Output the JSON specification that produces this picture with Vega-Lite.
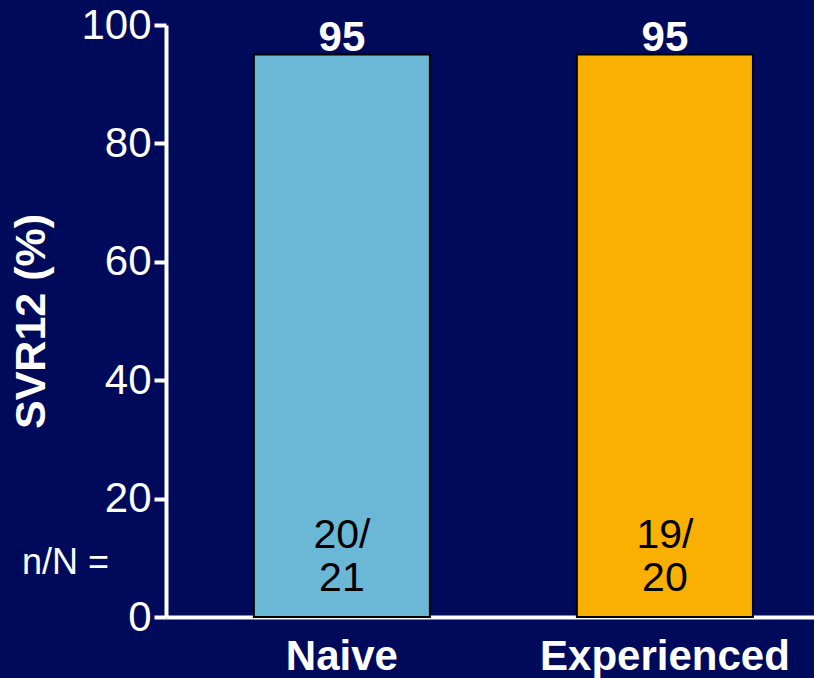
{
  "$schema": "https://vega.github.io/schema/vega-lite/v6.json",
  "width": 648,
  "height": 592,
  "autosize": {"type": "none"},
  "padding": {"left": 166, "top": 25, "right": 0, "bottom": 61},
  "background": "#000A5A",
  "config": {
    "view": {"stroke": null},
    "font": "Liberation Sans"
  },
  "data": {
    "values": [
      {"group": "Naive", "svr": 95, "n": 20, "N": 21},
      {"group": "Experienced", "svr": 95, "n": 19, "N": 20}
    ]
  },
  "transform": [
    {"calculate": "[datum.n + '/', '' + datum.N]", "as": "ratio"}
  ],
  "encoding": {
    "x": {
      "field": "group",
      "type": "nominal",
      "sort": ["Naive", "Experienced"],
      "scale": {"paddingInner": 0.455, "paddingOuter": 0.2305, "align": 0.59},
      "axis": {
        "title": null,
        "domainColor": "white",
        "domainWidth": 4,
        "ticks": false,
        "labelAngle": 0,
        "labelLimit": 0,
        "labelColor": "white",
        "labelFontSize": 42,
        "labelFontWeight": "bold",
        "labelPadding": 19
      }
    }
  },
  "layer": [
    {
      "mark": {"type": "bar", "stroke": "black", "strokeWidth": 2},
      "encoding": {
        "y": {
          "field": "svr",
          "type": "quantitative",
          "scale": {"domain": [0, 100], "nice": false},
          "axis": {
            "title": "SVR12 (%)",
            "titleColor": "white",
            "titleFontSize": 43,
            "titleFontWeight": "bold",
            "titlePadding": 27,
            "values": [0, 20, 40, 60, 80, 100],
            "grid": false,
            "domainColor": "white",
            "domainWidth": 4,
            "tickColor": "white",
            "tickWidth": 4,
            "tickSize": 12,
            "labelColor": "white",
            "labelFontSize": 42,
            "labelPadding": 3
          }
        },
        "color": {
          "field": "group",
          "type": "nominal",
          "scale": {"domain": ["Naive", "Experienced"], "range": ["#6AB7D6", "#F9B000"]},
          "legend": null
        }
      }
    },
    {
      "mark": {"type": "text", "fontSize": 42, "fontWeight": "bold", "color": "white", "baseline": "alphabetic", "dy": -4},
      "encoding": {
        "y": {"field": "svr", "type": "quantitative"},
        "text": {"field": "svr", "type": "quantitative"}
      }
    },
    {
      "mark": {"type": "text", "fontSize": 41, "color": "black", "baseline": "middle", "lineHeight": 43},
      "encoding": {
        "y": {"datum": 13.6},
        "text": {"field": "ratio"}
      }
    },
    {
      "data": {"values": [{"label": "n/N ="}]},
      "mark": {"type": "text", "fontSize": 36, "color": "white", "align": "right", "baseline": "middle", "dx": -57},
      "encoding": {
        "x": {"value": 0},
        "y": {"datum": 9.1},
        "text": {"field": "label"}
      }
    }
  ]
}
